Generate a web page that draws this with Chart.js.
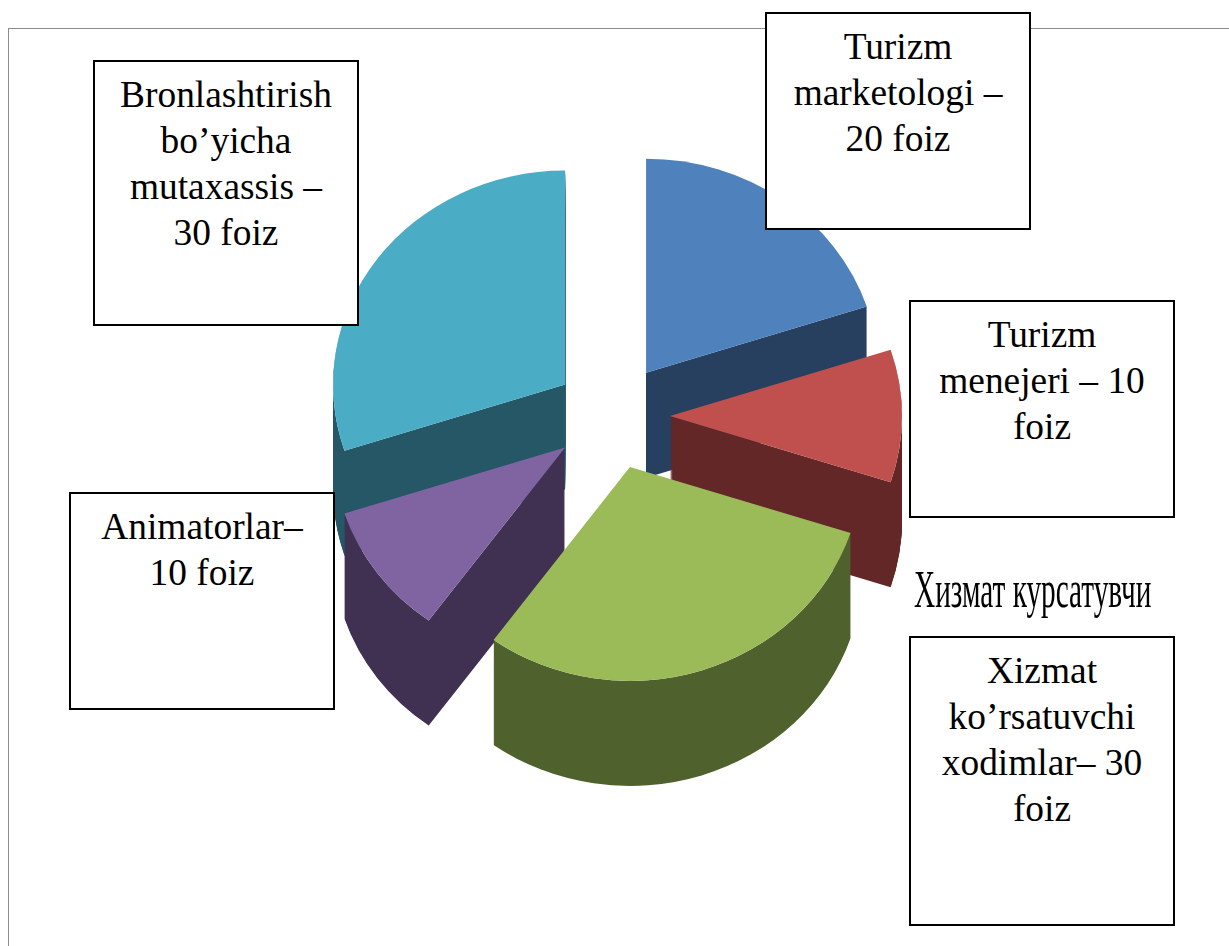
<!DOCTYPE html>
<html>
<head>
<meta charset="utf-8">
<title>Pie</title>
<script src="https://cdn.jsdelivr.net/npm/chart.js@4/dist/chart.umd.min.js"></script>
<style>
  html, body { margin: 0; padding: 0; background: #fff; overflow: hidden; }
  #wrap { position: relative; width: 1229px; height: 946px; overflow: hidden; }
  #myChart { position: absolute; left: 0; top: 0; }
  #frame { position: absolute; left: 8px; top: 28px; width: 1300px; height: 1000px; border: 1px solid #8c8c8c; }
  .box {
    position: absolute; box-sizing: border-box; background: #fff; border: 2px solid #000;
    font-family: "Liberation Serif", serif; font-size: 37.4px; line-height: 46.3px;
    text-align: center; color: #000; padding-top: 9.5px;
  }
  #note {
    position: absolute; left: 914px; top: 560px; white-space: nowrap; color: #000;
    font-family: "Liberation Serif", serif; font-size: 52px; line-height: 60px;
    transform: scaleX(0.563); transform-origin: left top;
  }
</style>
</head>
<body>
<div id="wrap">
  <div id="frame"></div>
  <canvas id="myChart" width="1229" height="946"></canvas>
  <div id="note">Хизмат курсатувчи</div>
</div>
<script>
var categories = ['Turizm marketologi', 'Turizm menejeri', 'Xizmat ko’rsatuvchi xodimlar', 'Animatorlar', 'Bronlashtirish bo’yicha mutaxassis'];
var values = [20, 10, 30, 10, 30];
var topColors = ['#4f81bd', '#c0504d', '#9bbb59', '#8064a2', '#4bacc6'];
var wallColors = ['#27405f', '#622726', '#4f612c', '#403152', '#255766'];

var boxLines = [
  ['Bronlashtirish', 'bo’yicha', 'mutaxassis –', '30 foiz'],
  ['Turizm', 'marketologi –', '20 foiz'],
  ['Turizm', 'menejeri – 10', 'foiz'],
  ['Xizmat', 'ko’rsatuvchi', 'xodimlar– 30', 'foiz'],
  ['Animatorlar–', '10 foiz']
];
// left, top, width, height of each text box
var boxRects = [
  [93, 60, 266, 266],
  [765, 12, 266, 218],
  [909, 300, 266, 218],
  [909, 636, 266, 290],
  [69, 492, 266, 218]
];

var wrap = document.getElementById('wrap');
for (var i = 0; i < boxLines.length; i++) {
  var box = document.createElement('div');
  box.className = 'box';
  box.style.left = boxRects[i][0] + 'px';
  box.style.top = boxRects[i][1] + 'px';
  box.style.width = boxRects[i][2] + 'px';
  box.style.height = boxRects[i][3] + 'px';
  box.innerHTML = boxLines[i].join('<br>');
  wrap.appendChild(box);
}

var squash = 214 / 232;   // tilt of the pie
var explode = 0.25;       // how far slices are pulled out, part of the radius
var depth = 105;          // height of the walls in px

// draw the arcs as exploded, tilted slices with a wall under them
var pie3d = {
  id: 'pie3d',
  beforeDatasetsDraw: function(chart) {
    var ctx = chart.ctx;
    var arcs = chart.getDatasetMeta(0).data.map(function(arc, idx) {
      var mid = (arc.startAngle + arc.endAngle) / 2;
      return { arc: arc, idx: idx, mid: mid };
    });
    // back to front
    arcs.sort(function(a, b) { return Math.sin(a.mid) - Math.sin(b.mid); });

    // walls go through a scratch canvas, stacking them straight on the chart leaves bands
    var scratch = document.createElement('canvas');
    scratch.width = chart.width;
    scratch.height = chart.height;
    var sctx = scratch.getContext('2d');

    arcs.forEach(function(item) {
      var arc = item.arc;
      var orig = arc.options;
      var dx = Math.cos(item.mid) * arc.outerRadius * explode;
      var dy = Math.sin(item.mid) * arc.outerRadius * explode;

      function paint(target, color, shift) {
        target.save();
        target.translate(arc.x, arc.y + shift);
        target.scale(1, squash);
        target.translate(dx - arc.x, dy - arc.y);
        arc.options = Object.create(orig, { backgroundColor: { value: color } });
        arc.draw(target);
        target.restore();
      }

      sctx.globalCompositeOperation = 'source-over';
      sctx.clearRect(0, 0, scratch.width, scratch.height);
      for (var s = depth; s > 0; s--) {
        paint(sctx, '#000', s);
      }
      // no wall under the top face
      sctx.globalCompositeOperation = 'destination-out';
      paint(sctx, '#000', 0);
      sctx.globalCompositeOperation = 'source-in';
      sctx.fillStyle = wallColors[item.idx];
      sctx.fillRect(0, 0, scratch.width, scratch.height);

      ctx.drawImage(scratch, 0, 0);
      paint(ctx, topColors[item.idx], 0);
      arc.options = orig;
    });
    return false;
  }
};

var ctx = document.getElementById('myChart').getContext('2d');
var pie = new Chart(ctx, {
  type: 'pie',
  data: {
    labels: categories,
    datasets: [{
      data: values,
      backgroundColor: topColors,
      borderWidth: 0
    }]
  },
  plugins: [pie3d],
  options: {
    responsive: false,
    animation: false,
    events: [],
    layout: { padding: { left: 380, right: 385, top: 184, bottom: 298 } },
    plugins: {
      legend: { display: false },
      tooltip: { enabled: false }
    }
  }
});
</script>
</body>
</html>
